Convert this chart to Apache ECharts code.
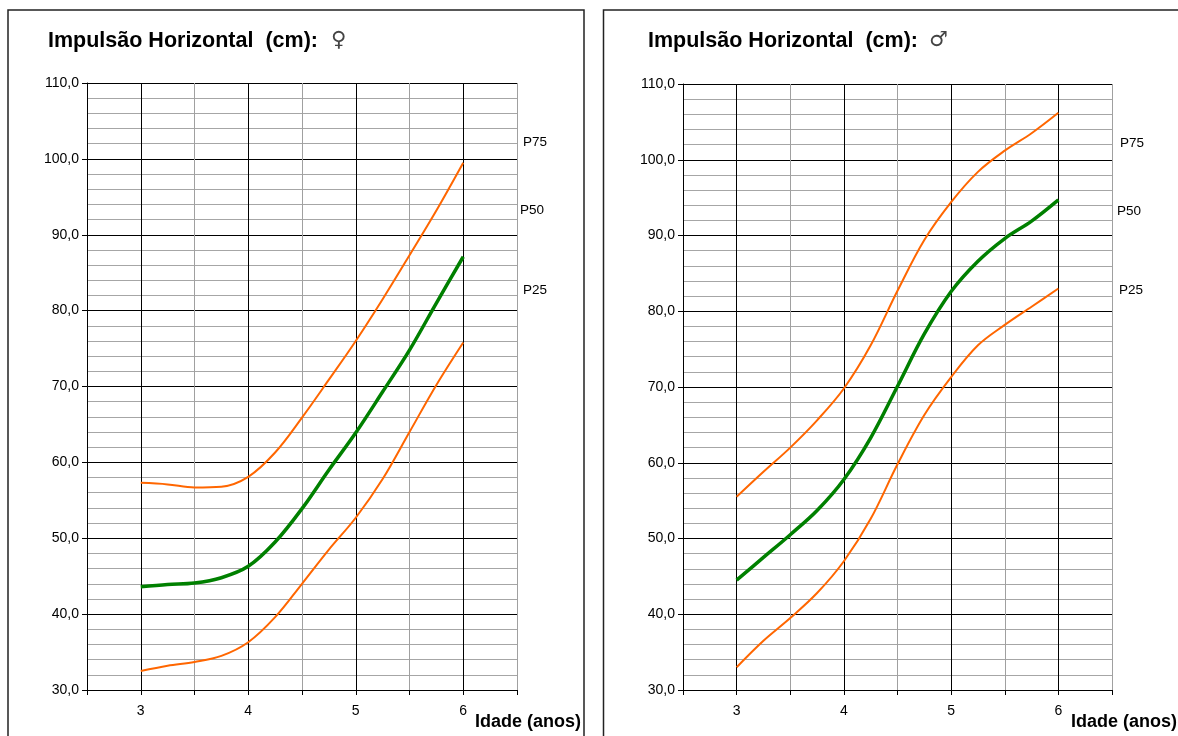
<!DOCTYPE html>
<html>
<head>
<meta charset="utf-8">
<script src="https://cdn.jsdelivr.net/npm/echarts@6/dist/echarts.min.js"></script>
<style>
html,body{margin:0;padding:0;background:#fff;}
#c{width:1178px;height:736px;}
</style>
</head>
<body>
<div id="c"></div>
<script>
// ---- data ----
const ages = [3, 3.25, 3.5, 3.75, 4, 4.25, 4.5, 4.75, 5, 5.25, 5.5, 5.75, 6];
const femaleP75 = [57.3, 57.1, 56.7, 56.8, 58.1, 61.3, 65.9, 70.9, 76.0, 81.5, 87.3, 93.2, 99.5];
const femaleP50 = [43.6, 43.9, 44.1, 44.8, 46.3, 49.5, 53.9, 59.0, 63.9, 69.3, 74.8, 81.0, 87.1];
const femaleP25 = [32.5, 33.2, 33.7, 34.5, 36.3, 39.6, 44.0, 48.5, 52.7, 57.8, 64.0, 70.2, 75.8];
const maleP75 = [55.5, 58.8, 62.0, 65.6, 69.8, 75.5, 82.7, 89.4, 94.4, 98.4, 101.2, 103.5, 106.2];
const maleP50 = [44.5, 47.5, 50.5, 53.7, 57.8, 63.3, 70.1, 77.0, 82.6, 86.6, 89.6, 91.9, 94.7];
const maleP25 = [33.0, 36.5, 39.5, 42.8, 47.0, 52.6, 59.8, 66.3, 71.3, 75.5, 78.2, 80.6, 83.0];
const xTickLabels = ['3', '4', '5', '6'];
const percentileLabels = ['P75', 'P50', 'P25'];
const titleText = 'Impulsão Horizontal  (cm):';
const symbols = ['♀', '♂'];
const xName = 'Idade (anos)';

const FONT = '"Liberation Sans", Arial, sans-serif';
const ORANGE = '#ff6600';
const GREEN = '#008000';

function pairs(ys) { return ages.map((a, i) => [a, ys[i]]); }

function xAxis(gi) {
  return {
    type: 'value', gridIndex: gi, min: 2.5, max: 6.5, interval: 0.5,
    axisLine: { show: true, onZero: false, lineStyle: { color: '#000', width: 1 } },
    axisTick: { show: true, inside: false, length: 5, lineStyle: { color: '#000' } },
    axisLabel: {
      margin: 14, fontFamily: FONT, fontSize: 14, color: '#000',
      formatter: v => (Math.abs(v - Math.round(v)) < 1e-9 && xTickLabels.indexOf(String(Math.round(v))) >= 0) ? String(Math.round(v)) : ''
    },
    splitLine: { show: true, lineStyle: { color: ['#a0a0a0', '#000000'], width: 1 } }
  };
}
function yAxis(gi) {
  return {
    type: 'value', gridIndex: gi, min: 30, max: 110, interval: 10,
    axisLine: { show: true, onZero: false, lineStyle: { color: '#000', width: 1 } },
    axisTick: { show: true, length: 5, lineStyle: { color: '#000' } },
    axisLabel: {
      margin: 8, fontFamily: FONT, fontSize: 14, color: '#000',
      formatter: v => v.toFixed(1).replace('.', ',')
    },
    splitLine: { show: true, lineStyle: { color: '#000', width: 1 } },
    minorTick: { show: false, splitNumber: 5 },
    minorSplitLine: { show: true, lineStyle: { color: '#a6a6a6', width: 1 } }
  };
}
function line(gi, ys, color, w) {
  return {
    type: 'line', xAxisIndex: gi, yAxisIndex: gi, data: pairs(ys),
    smooth: 0.35, symbol: 'none', silent: true, z: 5,
    lineStyle: { color: color, width: w }
  };
}

const chart = echarts.init(document.getElementById('c'), null, { renderer: 'canvas' });

const graphics = [
  { type: 'rect', shape: { x: 8, y: 10, width: 576, height: 740 }, style: { fill: 'none', stroke: '#222', lineWidth: 1.5 } },
  { type: 'rect', shape: { x: 603.5, y: 10, width: 600, height: 740 }, style: { fill: 'none', stroke: '#222', lineWidth: 1.5 } },
  { type: 'text', x: 48, y: 41, style: { text: titleText, font: 'bold 21.5px ' + FONT, fill: '#000', textVerticalAlign: 'middle' } },
  { type: 'text', x: 331, y: 41, style: { text: symbols[0], font: '21px "DejaVu Sans", sans-serif', fill: '#444', textVerticalAlign: 'middle' } },
  { type: 'text', x: 648, y: 41, style: { text: titleText, font: 'bold 21.5px ' + FONT, fill: '#000', textVerticalAlign: 'middle' } },
  { type: 'text', x: 929, y: 41, style: { text: symbols[1], font: '21px "DejaVu Sans", sans-serif', fill: '#444', textVerticalAlign: 'middle' } },
  { type: 'text', x: 475, y: 722, style: { text: xName, font: 'bold 18px ' + FONT, fill: '#000', textVerticalAlign: 'middle' } },
  { type: 'text', x: 1071, y: 722, style: { text: xName, font: 'bold 18px ' + FONT, fill: '#000', textVerticalAlign: 'middle' } },
  { type: 'text', x: 523, y: 142, style: { text: percentileLabels[0], font: '13.5px ' + FONT, fill: '#000', textVerticalAlign: 'middle' } },
  { type: 'text', x: 520, y: 210, style: { text: percentileLabels[1], font: '13.5px ' + FONT, fill: '#000', textVerticalAlign: 'middle' } },
  { type: 'text', x: 523, y: 290, style: { text: percentileLabels[2], font: '13.5px ' + FONT, fill: '#000', textVerticalAlign: 'middle' } },
  { type: 'text', x: 1120, y: 143, style: { text: percentileLabels[0], font: '13.5px ' + FONT, fill: '#000', textVerticalAlign: 'middle' } },
  { type: 'text', x: 1117, y: 211, style: { text: percentileLabels[1], font: '13.5px ' + FONT, fill: '#000', textVerticalAlign: 'middle' } },
  { type: 'text', x: 1119, y: 290, style: { text: percentileLabels[2], font: '13.5px ' + FONT, fill: '#000', textVerticalAlign: 'middle' } }
];

chart.setOption({
  animation: false,
  backgroundColor: '#fff',
  grid: [
    { left: 87, top: 83, width: 430, height: 607, containLabel: false },
    { left: 683, top: 84, width: 429, height: 606, containLabel: false }
  ],
  xAxis: [xAxis(0), xAxis(1)],
  yAxis: [yAxis(0), yAxis(1)],
  series: [
    line(0, femaleP75, ORANGE, 2),
    line(0, femaleP25, ORANGE, 2),
    line(0, femaleP50, GREEN, 3.5),
    line(1, maleP75, ORANGE, 2),
    line(1, maleP25, ORANGE, 2),
    line(1, maleP50, GREEN, 3.5)
  ],
  graphic: graphics
});
</script>
</body>
</html>
